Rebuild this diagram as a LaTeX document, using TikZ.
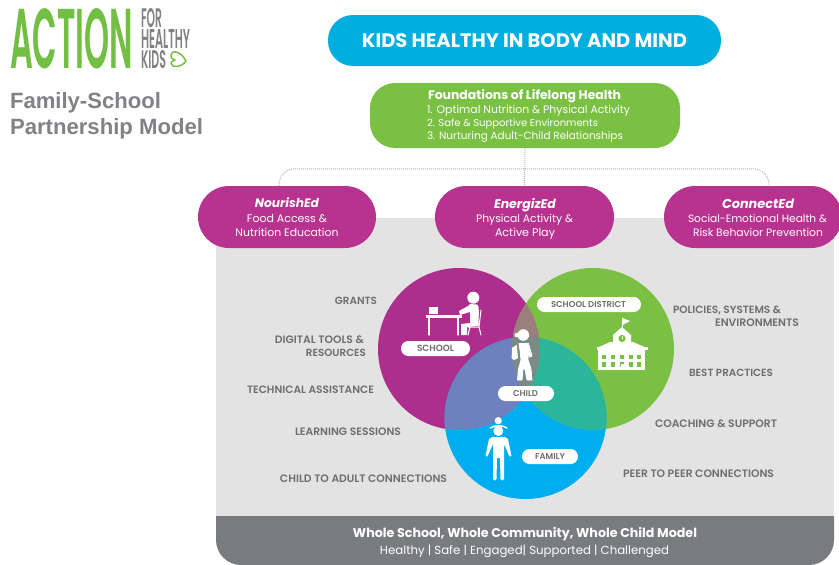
\documentclass[tikz,border=0pt]{standalone}
\usepackage{graphicx}
\usepackage{fontspec}
\setmainfont{Poppins}
\newfontfamily\arialf{Liberation Sans}
\newfontfamily\popmed{Poppins SemiBold}
\definecolor{cpurple}{HTML}{AE2E8E}
\definecolor{ppurple}{HTML}{B83290}
\definecolor{cgreen}{HTML}{7AC143}
\definecolor{cblue}{HTML}{00AEEF}
\definecolor{pblue}{HTML}{00AEE0}
\definecolor{pg}{HTML}{9A7F7A}
\definecolor{pb}{HTML}{6F80BE}
\definecolor{gb}{HTML}{2BB69C}
\definecolor{pgb}{HTML}{7B8A87}
\definecolor{panel}{HTML}{E3E3E3}
\definecolor{barc}{HTML}{797B7E}
\definecolor{lab}{HTML}{6D6E71}
\definecolor{logog}{HTML}{808285}
\definecolor{logogreen}{HTML}{72BF44}
\newcommand\tw[2]{\resizebox{#1pt}{!}{\strut #2}}
\tikzset{
  plain/.style={inner sep=0pt,outer sep=0pt},
  txt/.style={plain,yshift=-2pt},
  sidelabel/.style={txt,text=lab,font=\popmed},
  wht/.style={txt,text=white},
  pill/.style={draw=none,inner sep=0pt,rounded corners=#1},
  tagpill/.style={fill=white,rounded corners=7.4pt,minimum height=15pt,inner sep=0pt},
  tagtext/.style={plain,yshift=-1pt,text=lab,font=\popmed},
  icon/.style={fill=white,draw=none},
  iconbold/.style={fill=white,draw=white,line width=.8pt,line join=round},
  iconline/.style={draw=white,line cap=round,line join=round},
  link/.style={draw=black!28,line width=1pt,dash pattern=on 1pt off 1pt},
}
\begin{document}
\begin{tikzpicture}[x=1pt,y=-1pt]
\useasboundingbox (0,0) rectangle (839,565);
\fill[white] (0,0) rectangle (839,565);
% logo
\node[plain,text=logogreen,anchor=north west] (logo) at (10,8) {\resizebox{123pt}{60pt}{\popmed ACTION}};
\node[plain,text=logog,anchor=north west] (l1) at (141,8) {\resizebox{21pt}{19pt}{\popmed FOR}};
\node[plain,text=logog,anchor=north west] (l2) at (141,29) {\resizebox{49pt}{19pt}{\popmed HEALTHY}};
\node[plain,text=logog,anchor=north west] (l3) at (141,50) {\resizebox{25pt}{18pt}{\popmed KIDS}};
\draw[logogreen,line width=1.5pt,line join=round] (186,61) .. controls (181,51) and (171,49) .. (171,56) .. controls (171,58) .. (175,60) .. controls (171,62) .. (171,63) .. controls (171,68) and (181,68) .. (186,61) -- cycle;
\node[plain,text=logog,anchor=base west,font=\arialf\bfseries] (t1) at (10,108.5) {\resizebox{151pt}{!}{Family-School}};
\node[plain,text=logog,anchor=base west,font=\arialf\bfseries] (t2) at (10,134.5) {\resizebox{193pt}{!}{Partnership Model}};
% panel
\fill[panel] (216,218) rectangle (834,517);
\fill[barc] (216,516) [rounded corners=25pt] -- (216,565) -- (834,565) [sharp corners] -- (834,516) -- cycle;
% pills
\node[pill=25pt,fill=pblue,minimum width=393pt,minimum height=51pt] (top) at (524.5,40.5) {};
\node[pill=25pt,fill=cgreen,minimum width=310pt,minimum height=65pt] (found) at (525,115.5) {};
\node[pill=31pt,fill=ppurple,minimum width=178pt,minimum height=62pt] (nour) at (287,217) {};
\node[pill=31pt,fill=ppurple,minimum width=179pt,minimum height=62pt] (ener) at (524.5,217) {};
\node[pill=31pt,fill=ppurple,minimum width=178pt,minimum height=62pt] (conn) at (753,217) {};
\draw[link] (found.south) -- (ener.north);
\draw[link,rounded corners=16pt] ([xshift=-8pt]nour.north) -- ++(0,-17) -| ([xshift=16pt]conn.north);
% pill text
\node[wht,font=\bfseries] (a) at (524.5,40.5) {\tw{325}{KIDS HEALTHY IN BODY AND MIND}};
\node[wht,font=\bfseries,anchor=west] (b0) at (428,95) {\tw{193}{Foundations of Lifelong Health}};
\node[wht,anchor=west] (b1) at (427,109) {\tw{203}{1. Optimal Nutrition \& Physical Activity}};
\node[wht,anchor=west] (b2) at (427,122) {\tw{171}{2. Safe \& Supportive Environments}};
\node[wht,anchor=west] (b3) at (427,135) {\tw{196}{3. Nurturing Adult-Child Relationships}};
\node[wht,font=\bfseries\itshape] (c0) at (287,203) {\tw{64}{NourishEd}};
\node[wht] (c1) at (287,218) {\tw{80}{Food Access \&}};
\node[wht] (c2) at (287,232) {\tw{103}{Nutrition Education}};
\node[wht,font=\bfseries\itshape] (d0) at (525,203) {\tw{62}{EnergizEd}};
\node[wht] (d1) at (524.5,218) {\tw{97}{Physical Activity \&}};
\node[wht] (d2) at (525,232) {\tw{60}{Active Play}};
\node[wht,font=\bfseries\itshape] (e0) at (758,203) {\tw{72}{ConnectEd}};
\node[wht] (e1) at (757.5,218) {\tw{139}{Social-Emotional Health \&}};
\node[wht] (e2) at (758,232) {\tw{130}{Risk Behavior Prevention}};
% circles
\fill[cpurple] (459,349) circle[radius=81];
\fill[cgreen] (593,349) circle[radius=81];
\fill[cblue] (525.5,418) circle[radius=81];
\begin{scope}
\clip (459,349) circle[radius=81];
\fill[pg] (593,349) circle[radius=81];
\fill[pb] (525.5,418) circle[radius=81];
\end{scope}
\begin{scope}
\clip (593,349) circle[radius=81];
\fill[gb] (525.5,418) circle[radius=81];
\clip (459,349) circle[radius=81];
\fill[pgb] (525.5,418) circle[radius=81];
\end{scope}
% desk person
\fill[icon] (473.3,297.7) circle[radius=6];
\fill[icon] (429,307) rectangle (438,314);
\fill[icon] (426,315) rectangle (462,317.5);
\draw[iconline,line width=1.3pt] (429,317) -- (429,335) (458,317) -- (458,335);
\fill[icon] (470,304) -- (477,304.5) .. controls (479,306) .. (478.5,326) -- (467,327) -- (467,335) -- (461,335) -- (461,324) -- (470,323) -- (470,312) -- (460,315) -- (459,311) -- (468,306) -- cycle;
\draw[iconline,line width=1pt] (481,310) -- (479,327) -- (468,327) (479,327) -- (481,335) (470,327) -- (468,335);
% school building
\fill[icon] (598,349) rectangle (645,370);
\fill[icon] (597,348) -- (610,342) -- (613,342) -- (613,335) -- (622,327) -- (631,335) -- (631,342) -- (633,342) -- (647,348) -- cycle;
\fill[icon] (596.5,346.5) rectangle (647.5,349.5);
\draw[iconline,line width=1pt] (622.5,327) -- (622.5,318);
\fill[icon] (622.5,318) -- (630,321) -- (622.5,325) -- cycle;
\fill[cgreen] (622,338.5) circle[radius=3.6];
\draw[iconline,line width=.6pt] (622,336.5) -- (622,339);
\foreach \wy/\wh in {355/4,362/4.5}{
  \foreach \wx in {602,611,620,628.5,637}{
    \fill[cgreen] (\wx,\wy) rectangle ++(4.4,\wh);
  }
}
\fill[icon] (620.5,364) rectangle (624,369);
% child
\fill[icon] (523.3,335) circle[radius=5.8];
\fill[iconbold] (519,333) -- (515,334) -- (515.5,336.5) -- (519,336.5) -- cycle;
\fill[iconbold] (512.5,348) -- (516.5,345.5) -- (517.5,358) -- (514,359.5) -- (512,358) -- cycle;
\filldraw[iconbold] (519,343.5) -- (528.5,343.5) -- (532,356) -- (529.5,357) -- (528,350) -- (528,360) -- (531,369) -- (532,380) -- (527,380) -- (525,369) -- (523,369) -- (522,380) -- (517.5,380) -- (518.5,369) -- (521,360) -- (520,350) -- cycle;
% parent
\fill[icon] (498.3,420.7) circle[radius=3.6];
\draw[iconline,line width=1.5pt] (490.5,428) .. controls (494,425) and (503,425) .. (507,428);
\fill[icon] (498.3,431) circle[radius=5];
\fill[icon] (492,437) -- (505,437) -- (508,439) -- (511.5,456) -- (509.5,456.5) -- (504,444) -- (504,479) .. controls (504,481) and (500.5,481) .. (500.5,479) -- (500,458) -- (497,458) -- (496.5,479) .. controls (496.5,481) and (493,481) .. (493,479) -- (493,444) -- (487.5,456.5) -- (485.5,456) -- (489,439) -- cycle;
% tag pills
\node[tagpill,minimum width=69pt] (school) at (435.5,348.5) {};
\node[tagpill,minimum width=104pt] (district) at (589,304.5) {};
\node[tagpill,minimum width=56pt] (child) at (526,393.5) {};
\node[tagpill,minimum width=56pt] (family) at (550,456.5) {};
\node[tagtext] at (435.5,348.7) {\tw{37}{SCHOOL}};
\node[tagtext] at (588.5,304.7) {\tw{75}{SCHOOL DISTRICT}};
\node[tagtext] at (525.5,393.7) {\tw{25}{CHILD}};
\node[tagtext] at (550,456.7) {\tw{30}{FAMILY}};
% side labels
\node[sidelabel,anchor=east] at (377,300) {\tw{42}{GRANTS}};
\node[sidelabel,anchor=east] at (364,339) {\tw{89}{DIGITAL TOOLS \&}};
\node[sidelabel,anchor=east] at (366,352) {\tw{60}{RESOURCES}};
\node[sidelabel,anchor=east] at (374,389) {\tw{127}{TECHNICAL ASSISTANCE}};
\node[sidelabel,anchor=east] at (401,431) {\tw{106}{LEARNING SESSIONS}};
\node[sidelabel,anchor=east] at (447,478) {\tw{167}{CHILD TO ADULT CONNECTIONS}};
\node[sidelabel,anchor=west] at (673,309) {\tw{108}{POLICIES, SYSTEMS \&}};
\node[sidelabel,anchor=west] at (715,322) {\tw{84}{ENVIRONMENTS}};
\node[sidelabel,anchor=west] at (689,372) {\tw{84}{BEST PRACTICES}};
\node[sidelabel,anchor=west] at (655,423) {\tw{122}{COACHING \& SUPPORT}};
\node[sidelabel,anchor=west] at (623,473) {\tw{151}{PEER TO PEER CONNECTIONS}};
% bar text
\node[wht,font=\bfseries] (f0) at (525,532) {\tw{344}{Whole School, Whole Community, Whole Child Model}};
\node[wht] (f1) at (524.5,550) {\tw{289}{Healthy | Safe | Engaged| Supported | Challenged}};
\end{tikzpicture}
\end{document}
